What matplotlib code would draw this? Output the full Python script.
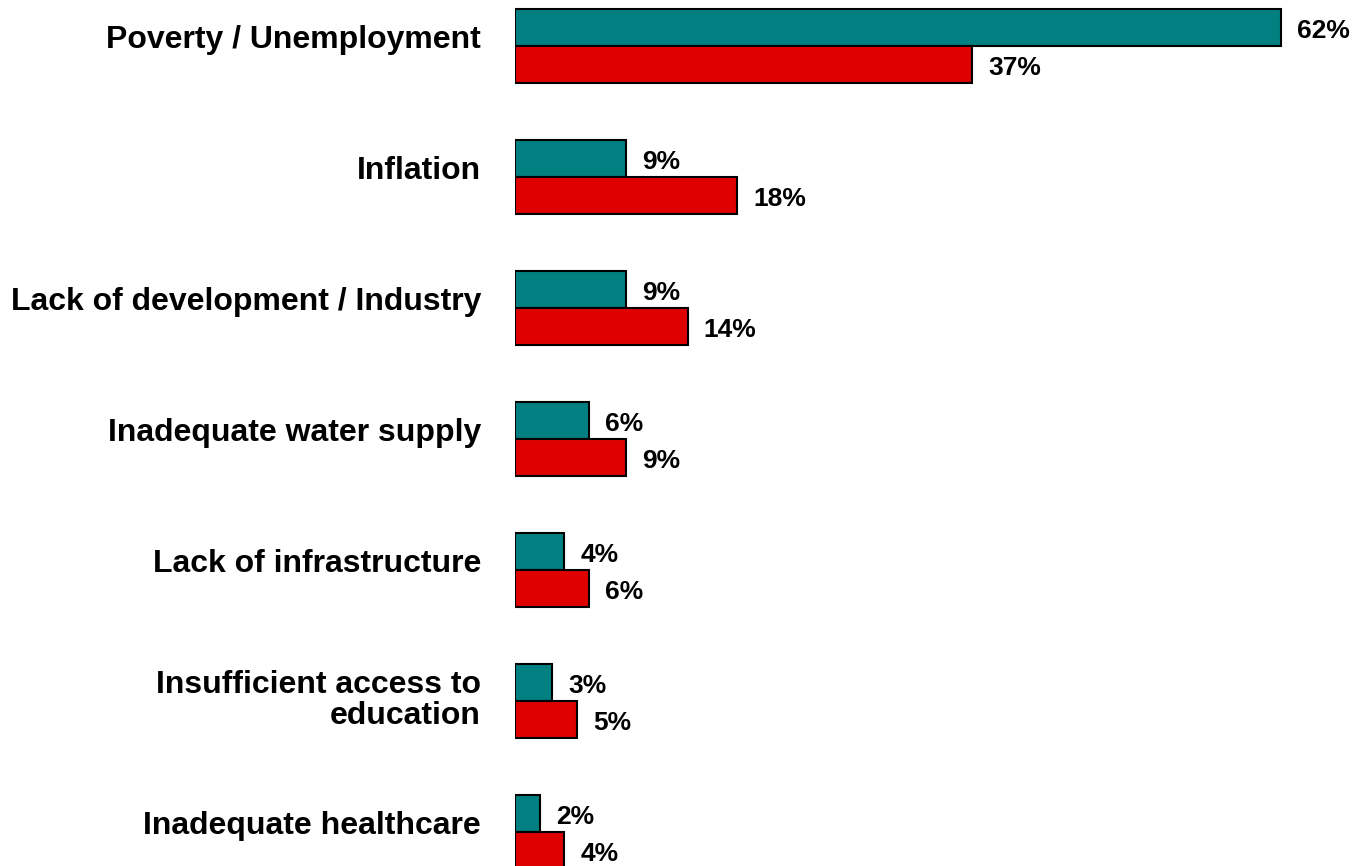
import matplotlib
matplotlib.use("Agg")
import matplotlib.pyplot as plt
import matplotlib.transforms as mtransforms
import numpy as np

categories = ["Poverty / Unemployment", "Inflation", "Lack of development / Industry",
              "Inadequate water supply", "Lack of infrastructure",
              "Insufficient access to\neducation", "Inadequate healthcare"]
series_teal = [62, 9, 9, 6, 4, 3, 2]
series_red = [37, 18, 14, 9, 6, 5, 4]

plt.rcParams['font.family'] = ['Liberation Sans', 'DejaVu Sans']

fig = plt.figure(figsize=(13.56, 8.66), dpi=100)
ax = fig.add_axes([515/1356, 0, 1 - 515/1356, 1])

y = np.arange(len(categories))
h = 0.283
ax.barh(y - h/2, series_teal, height=h, color="#008080", edgecolor="black", linewidth=1.5)
ax.barh(y + h/2, series_red, height=h, color="#DF0000", edgecolor="black", linewidth=1.5)

ax.set_xlim(0, 841/12.35)
ax.set_ylim(6 + 34/131, -46/131)

for yi, v in zip(y - h/2, series_teal):
    ax.annotate(f"{v}%", (v, yi), xytext=(11.5, -2.5), textcoords="offset points",
                ha="left", va="center", fontsize=19, fontweight="bold")
for yi, v in zip(y + h/2, series_red):
    ax.annotate(f"{v}%", (v, yi), xytext=(11.5, -2.5), textcoords="offset points",
                ha="left", va="center", fontsize=19, fontweight="bold")

ax.set_yticks(y)
ax.set_yticklabels(categories, fontsize=23, fontweight="bold", linespacing=1.05)
ax.tick_params(axis="y", length=0, pad=24.5)
for lab in ax.get_yticklabels():
    dy = 3.5 if "\n" in lab.get_text() else 7
    lab.set_transform(lab.get_transform() +
                      mtransforms.ScaledTranslation(0, dy/72, fig.dpi_scale_trans))
ax.set_xticks([])
for s in ax.spines.values():
    s.set_visible(False)

fig.savefig("out.png", dpi=100)
